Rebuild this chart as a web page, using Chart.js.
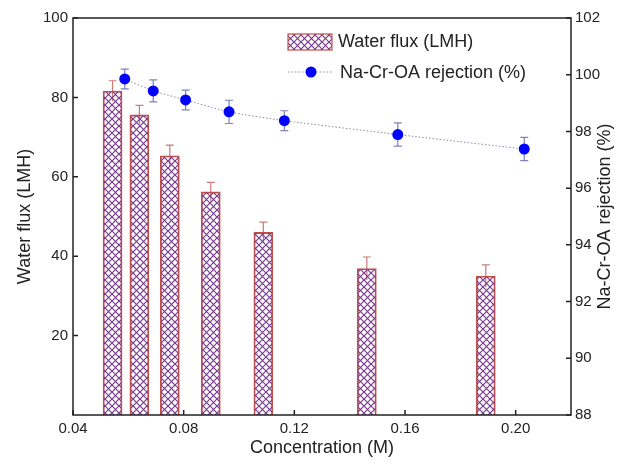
<!DOCTYPE html>
<html>
<head>
<meta charset="utf-8">
<script src="https://cdn.jsdelivr.net/npm/chart.js@4.4.1/dist/chart.umd.min.js"></script>
<style>
  html, body { margin: 0; padding: 0; background: #fff; }
</style>
</head>
<body>
<canvas id="chart" width="623" height="465"></canvas>
<script>
// bars: water flux
const fluxConc = [0.0543, 0.064, 0.075, 0.0898, 0.1088, 0.1462, 0.1892];
const fluxValues = [81.6, 75.6, 65.3, 56.2, 46.0, 36.9, 35.0];
const fluxErrors = [2.6, 2.4, 2.7, 2.4, 2.6, 2.9, 2.8];

// points: rejection
const rejConc = [0.0587, 0.069, 0.0807, 0.0964, 0.1164, 0.1574, 0.2031];
const rejValues = [99.85, 99.43, 99.11, 98.69, 98.38, 97.89, 97.38];
const rejErrors = [0.35, 0.39, 0.35, 0.41, 0.35, 0.41, 0.41];

const xTicks = [0.04, 0.08, 0.12, 0.16, 0.20];
const fluxTicks = [20, 40, 60, 80, 100];
const rejTicks = [88, 90, 92, 94, 96, 98, 100, 102];

const FONT = 'Liberation Sans, Arial, sans-serif';
const canvas = document.getElementById('chart');
const ctx = canvas.getContext('2d');

function makeHatch() {
  const c = document.createElement('canvas');
  c.width = 7;
  c.height = 7;
  const g = c.getContext('2d');
  g.strokeStyle = '#7a3a90';
  g.lineWidth = 1.2;
  g.beginPath();
  g.moveTo(-1, -1); g.lineTo(8, 8);
  g.moveTo(8, -1); g.lineTo(-1, 8);
  g.stroke();
  return ctx.createPattern(c, 'repeat');
}
const hatch = makeHatch();

function fixTicks(list) {
  return (scale) => { scale.ticks = list.map((v) => ({ value: v })); };
}

const errorBars = {
  id: 'errorBars',
  beforeDatasetsDraw(chart) {
    const { ctx, scales: { x, y, y1 } } = chart;
    ctx.save();
    ctx.lineWidth = 1.2;
    ctx.strokeStyle = '#c97b7e';
    fluxConc.forEach((c, i) => {
      const px = x.getPixelForValue(c);
      const top = y.getPixelForValue(fluxValues[i] + fluxErrors[i]);
      const bot = y.getPixelForValue(fluxValues[i] - fluxErrors[i]);
      ctx.beginPath();
      ctx.moveTo(px, top); ctx.lineTo(px, bot);
      ctx.moveTo(px - 4, top); ctx.lineTo(px + 4, top);
      ctx.stroke();
    });
    ctx.strokeStyle = '#8080b8';
    rejConc.forEach((c, i) => {
      const px = x.getPixelForValue(c);
      const top = y1.getPixelForValue(rejValues[i] + rejErrors[i]);
      const bot = y1.getPixelForValue(rejValues[i] - rejErrors[i]);
      ctx.beginPath();
      ctx.moveTo(px, top); ctx.lineTo(px, bot);
      ctx.moveTo(px - 4, top); ctx.lineTo(px + 4, top);
      ctx.moveTo(px - 4, bot); ctx.lineTo(px + 4, bot);
      ctx.stroke();
    });
    ctx.restore();
  },
};

const frame = {
  id: 'frame',
  afterDraw(chart) {
    const { ctx, chartArea: a, scales: { x, y, y1 } } = chart;
    ctx.save();
    ctx.strokeStyle = '#222';
    ctx.lineWidth = 1.5;
    ctx.strokeRect(a.left, a.top, a.right - a.left, a.bottom - a.top);
    ctx.beginPath();
    x.ticks.forEach((t) => {
      const px = x.getPixelForValue(t.value);
      ctx.moveTo(px, a.bottom); ctx.lineTo(px, a.bottom - 5);
    });
    y.ticks.forEach((t) => {
      const py = y.getPixelForValue(t.value);
      ctx.moveTo(a.left, py); ctx.lineTo(a.left + 5, py);
    });
    y1.ticks.forEach((t) => {
      const py = y1.getPixelForValue(t.value);
      ctx.moveTo(a.right, py); ctx.lineTo(a.right - 5, py);
    });
    ctx.stroke();

    // right axis title, reading bottom to top
    ctx.fillStyle = '#222';
    ctx.font = '18px ' + FONT;
    ctx.textAlign = 'center';
    ctx.textBaseline = 'middle';
    ctx.save();
    ctx.translate(605, (a.top + a.bottom) / 2);
    ctx.rotate(-Math.PI / 2);
    ctx.fillText('Na-Cr-OA rejection (%)', 0, 0);
    ctx.restore();

    // legend
    ctx.fillStyle = hatch;
    ctx.fillRect(288, 34, 44, 16);
    ctx.strokeStyle = '#c0504d';
    ctx.lineWidth = 1.2;
    ctx.strokeRect(288, 34, 44, 16);
    ctx.strokeStyle = '#8a8aa8';
    ctx.lineWidth = 1;
    ctx.setLineDash([1.5, 2]);
    ctx.beginPath();
    ctx.moveTo(288, 72); ctx.lineTo(332, 72);
    ctx.stroke();
    ctx.setLineDash([]);
    ctx.fillStyle = '#0000ff';
    ctx.beginPath();
    ctx.arc(311, 72, 5.5, 0, Math.PI * 2);
    ctx.fill();
    ctx.fillStyle = '#222';
    ctx.textAlign = 'left';
    ctx.fillText('Water flux (LMH)', 338, 42);
    ctx.fillText('Na-Cr-OA rejection (%)', 340, 73);
    ctx.restore();
  },
};

const config = {
  data: {
    datasets: [
      {
        type: 'line',
        label: 'Na-Cr-OA rejection (%)',
        data: rejConc.map((c, i) => ({ x: c, y: rejValues[i] })),
        yAxisID: 'y1',
        order: 0,
        borderColor: '#8a8aa8',
        borderWidth: 1,
        borderDash: [1.5, 2],
        tension: 0.2,
        pointRadius: 5.5,
        pointBackgroundColor: '#0000ff',
        pointBorderColor: '#0000ff',
        pointBorderWidth: 0,
      },
      {
        type: 'bar',
        label: 'Water flux (LMH)',
        data: fluxConc.map((c, i) => ({ x: c, y: fluxValues[i] })),
        yAxisID: 'y',
        order: 1,
        backgroundColor: hatch,
        borderColor: '#c0504d',
        borderWidth: 1.2,
        barThickness: 19,
      },
    ],
  },
  options: {
    responsive: false,
    animation: false,
    events: [],
    layout: { padding: { top: 18, left: 0, right: 0, bottom: 0 } },
    scales: {
      x: {
        type: 'linear',
        offset: false,
        min: 0.04,
        max: 0.22,
        grid: { display: false, drawTicks: false, offset: false },
        border: { display: false },
        afterBuildTicks: fixTicks(xTicks),
        afterFit: (s) => { s.height = 50; },
        ticks: {
          padding: 5,
          color: '#222',
          font: { family: FONT, size: 15 },
          callback: (v) => v.toFixed(2),
        },
        title: {
          display: true,
          text: 'Concentration (M)',
          color: '#222',
          font: { family: FONT, size: 18 },
          padding: { top: 0, bottom: 6 },
        },
      },
      y: {
        position: 'left',
        min: 0,
        max: 100,
        grid: { display: false, drawTicks: false },
        border: { display: false },
        afterBuildTicks: fixTicks(fluxTicks),
        afterFit: (s) => { s.width = 73; },
        ticks: {
          padding: 5,
          color: '#222',
          font: { family: FONT, size: 15 },
        },
        title: {
          display: true,
          text: 'Water flux (LMH)',
          color: '#222',
          font: { family: FONT, size: 18 },
          padding: { top: 14, bottom: 0 },
        },
      },
      y1: {
        position: 'right',
        min: 88,
        max: 102,
        grid: { display: false, drawTicks: false },
        border: { display: false },
        afterBuildTicks: fixTicks(rejTicks),
        afterFit: (s) => { s.width = 52; },
        ticks: {
          padding: 4,
          color: '#222',
          font: { family: FONT, size: 15 },
        },
        title: { display: false },
      },
    },
    plugins: {
      legend: { display: false },
      tooltip: { enabled: false },
    },
  },
  plugins: [errorBars, frame],
};

new Chart(ctx, config);
</script>
</body>
</html>
